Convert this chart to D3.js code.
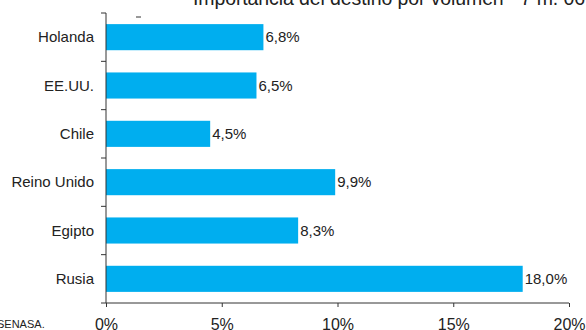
<!DOCTYPE html>
<html>
<head>
<meta charset="utf-8">
<script src="https://cdn.jsdelivr.net/npm/d3@7"></script>
<style>
  html, body { margin: 0; padding: 0; background: #fff; }
  svg { display: block; font-family: "Liberation Sans", Arial, sans-serif; }
</style>
</head>
<body>
<svg id="chart" width="586" height="330"></svg>
<script>
// Destinations and their share of export volume (%)
const destinos = ["Holanda", "EE.UU.", "Chile", "Reino Unido", "Egipto", "Rusia"];
const participacion = [6.8, 6.5, 4.5, 9.9, 8.3, 18.0];
const ticksX = [0, 5, 10, 15, 20];
const titulo = "Importancia del destino por volumen - 7 m. 06";
const fuente = "SENASA.";

const svg = d3.select("#chart");
const textColor = "#222";
const barColor = "#00AEEF";

const x = d3.scaleLinear().domain([0, 20]).range([106, 569]);
const y = d3.scaleBand().domain(destinos).range([13, 303]).paddingInner(0.46).paddingOuter(0.23);

// Bars
svg.append("g").selectAll("rect")
  .data(destinos)
  .join("rect")
  .attr("x", x(0))
  .attr("y", d => y(d))
  .attr("width", (d, i) => x(participacion[i]) - x(0))
  .attr("height", y.bandwidth())
  .attr("fill", barColor);

// Value labels
const fmt = v => v.toFixed(1).replace(".", ",") + "%";
svg.append("g").selectAll("text")
  .data(destinos)
  .join("text")
  .attr("x", (d, i) => x(participacion[i]) + 2)
  .attr("y", d => y(d) + y.bandwidth() / 2)
  .attr("dy", "0.35em")
  .attr("font-size", 15)
  .attr("fill", textColor)
  .text((d, i) => fmt(participacion[i]));

// Category axis with boundary ticks
const gy = svg.append("g");
gy.append("line")
  .attr("x1", x(0)).attr("x2", x(0))
  .attr("y1", 13).attr("y2", 303)
  .attr("stroke", "#333").attr("stroke-width", 1);
const bounds = d3.range(destinos.length + 1).map(i => 13 + i * (290 / destinos.length));
gy.selectAll("line.tk")
  .data(bounds)
  .join("line")
  .attr("class", "tk")
  .attr("x1", x(0) - 5).attr("x2", x(0))
  .attr("y1", d => d).attr("y2", d => d)
  .attr("stroke", "#333");
gy.selectAll("text")
  .data(destinos)
  .join("text")
  .attr("x", 94)
  .attr("y", d => y(d) + y.bandwidth() / 2)
  .attr("dy", "0.35em")
  .attr("text-anchor", "end")
  .attr("font-size", 15)
  .attr("fill", textColor)
  .text(d => d);

// Value axis
const gx = svg.append("g").attr("transform", "translate(0,303)");
gx.call(d3.axisBottom(x).tickValues(ticksX).tickSize(4).tickPadding(12).tickFormat(d => d + "%"));
gx.select(".domain").attr("stroke", "#333").attr("d", `M${x(0)},0H${x(20)}`);
gx.selectAll(".tick line").attr("stroke", "#333");
gx.selectAll(".tick text")
  .attr("font-size", 16)
  .attr("font-family", "Liberation Sans, Arial, sans-serif")
  .attr("fill", textColor);

// Title (partly above the top edge, running past the right edge)
svg.append("text")
  .attr("x", 193).attr("y", 5)
  .attr("font-size", 19.5)
  .attr("textLength", 392)
  .attr("lengthAdjust", "spacing")
  .attr("fill", textColor)
  .text(titulo);

// Small dash mark near the top
svg.append("line")
  .attr("x1", 136).attr("x2", 141)
  .attr("y1", 17).attr("y2", 17)
  .attr("stroke", "#333");

// Source
svg.append("text")
  .attr("x", -3).attr("y", 328)
  .attr("font-size", 11)
  .attr("fill", textColor)
  .text(fuente);
</script>
</body>
</html>
